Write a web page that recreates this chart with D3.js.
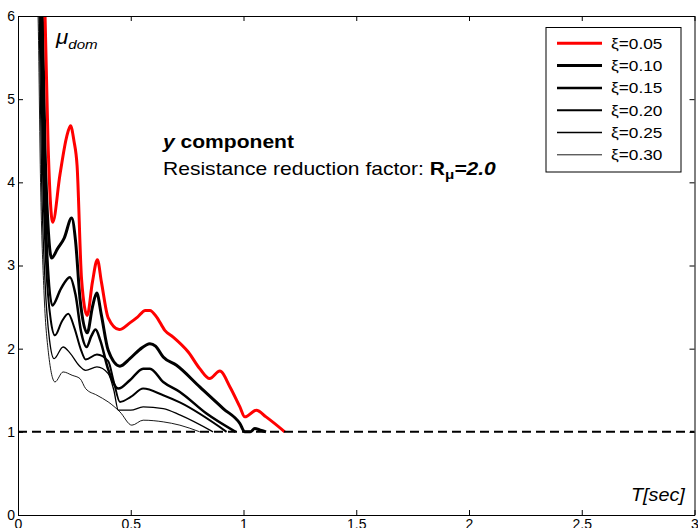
<!DOCTYPE html>
<html lang="en">
<head>
    <meta charset="UTF-8">
    <title>Ductility demand spectra</title>
    <script src="https://cdn.jsdelivr.net/npm/d3@7"></script>
    <style>
        body { margin: 0; background: #fff; }
        text { font-family: Arial, "Liberation Sans", sans-serif; fill: #000; }
    </style>
</head>
<body>
<script>
    // period T [sec] and ductility demand for each damping ratio
    var xi05 = [[0.11, 6.8], [0.12, 6.0], [0.133, 4.5], [0.154, 3.52], [0.186, 4.09], [0.216, 4.55], [0.233, 4.68],
        [0.248, 4.5], [0.262, 4.2], [0.282, 2.83], [0.307, 2.40], [0.33, 2.8], [0.352, 3.07], [0.37, 2.8],
        [0.40, 2.37], [0.449, 2.23], [0.496, 2.31], [0.53, 2.38], [0.565, 2.46], [0.585, 2.46], [0.615, 2.38],
        [0.651, 2.22], [0.688, 2.14], [0.755, 1.96], [0.806, 1.76], [0.85, 1.64], [0.895, 1.73], [0.94, 1.54],
        [0.984, 1.30], [1.006, 1.18], [1.057, 1.26], [1.10, 1.18], [1.183, 1.0]];
    var xi10 = [[0.095, 6.8], [0.108, 6.0], [0.12, 4.4], [0.135, 3.4], [0.149, 3.09], [0.175, 3.2], [0.205, 3.33],
        [0.238, 3.57], [0.255, 3.3], [0.275, 2.6], [0.307, 2.19], [0.33, 2.5], [0.349, 2.67], [0.37, 2.4],
        [0.40, 1.98], [0.452, 1.79], [0.496, 1.88], [0.54, 1.99], [0.585, 2.06], [0.61, 2.03], [0.644, 1.90],
        [0.703, 1.80], [0.806, 1.54], [0.91, 1.28], [0.984, 1.10], [1.006, 1.0], [1.03, 1.0], [1.05, 1.04],
        [1.075, 1.02], [1.10, 1.0]];
    var xi15 = [[0.09, 6.8], [0.103, 6.0], [0.115, 4.3], [0.13, 3.1], [0.152, 2.52], [0.19, 2.72], [0.23, 2.86],
        [0.255, 2.65], [0.28, 2.2], [0.304, 2.02], [0.325, 2.15], [0.344, 2.23], [0.365, 2.1], [0.40, 1.75],
        [0.445, 1.52], [0.496, 1.62], [0.555, 1.76], [0.585, 1.76], [0.644, 1.60], [0.718, 1.48], [0.836, 1.22],
        [0.965, 1.0]];
    var xi20 = [[0.085, 6.8], [0.099, 6.0], [0.11, 4.2], [0.125, 3.0], [0.145, 2.35], [0.164, 2.16], [0.195, 2.33],
        [0.223, 2.42], [0.25, 2.25], [0.28, 1.98], [0.30, 1.87], [0.35, 1.93], [0.40, 1.85], [0.425, 1.6],
        [0.452, 1.36], [0.50, 1.42], [0.555, 1.52], [0.644, 1.44], [0.72, 1.35], [0.925, 1.0]];
    var xi25 = [[0.08, 6.8], [0.094, 6.0], [0.105, 4.0], [0.12, 2.8], [0.14, 2.1], [0.16, 1.88], [0.20, 2.02],
        [0.23, 1.95], [0.27, 1.8], [0.30, 1.74], [0.35, 1.78], [0.40, 1.7], [0.425, 1.5], [0.445, 1.26],
        [0.50, 1.26], [0.555, 1.30], [0.644, 1.28], [0.72, 1.2], [0.865, 1.0]];
    var xi30 = [[0.075, 6.8], [0.089, 6.0], [0.10, 4.0], [0.115, 2.7], [0.135, 1.95], [0.164, 1.60], [0.20, 1.72],
        [0.24, 1.68], [0.275, 1.64], [0.30, 1.52], [0.35, 1.44], [0.40, 1.36], [0.452, 1.24], [0.505, 1.08],
        [0.555, 1.14], [0.644, 1.12], [0.718, 1.08], [0.806, 1.0]];

    var seriesNames = ["\u03BE=0.05", "\u03BE=0.10", "\u03BE=0.15", "\u03BE=0.20", "\u03BE=0.25", "\u03BE=0.30"];
    var seriesData = [xi05, xi10, xi15, xi20, xi25, xi30];
    var seriesColors = ["#ff0000", "#000", "#000", "#000", "#000", "#000"];
    var seriesWidths = [3, 3, 2.5, 2, 1.3, 0.9];

    var xTicks = [0, 0.5, 1, 1.5, 2, 2.5, 3];
    var yTicks = [0, 1, 2, 3, 4, 5, 6];
    var elasticLimit = 1;

    var width = 698, height = 528;
    var m = {left: 18, right: 694.5, top: 16, bottom: 515};

    var svg = d3.select("body")
        .append("svg")
        .attr("width", width)
        .attr("height", height);

    var x = d3.scaleLinear().domain([0, 3]).range([m.left, m.right]);
    var y = d3.scaleLinear().domain([0, 6]).range([m.bottom, m.top]);

    svg.append("clipPath").attr("id", "plotclip")
        .append("rect")
        .attr("x", m.left).attr("y", m.top)
        .attr("width", m.right - m.left).attr("height", m.bottom - m.top);

    var line = d3.line()
        .x(d => x(d[0]))
        .y(d => y(d[1]))
        .curve(d3.curveMonotoneX);

    // curves, thinnest first so the red one sits on top
    var order = [5, 4, 3, 2, 1, 0];
    svg.append("g").attr("clip-path", "url(#plotclip)")
        .selectAll("path")
        .data(order)
        .enter().append("path")
        .attr("d", i => line(seriesData[i]))
        .attr("fill", "none")
        .attr("stroke", i => seriesColors[i])
        .attr("stroke-width", i => seriesWidths[i])
        .attr("stroke-linejoin", "round");

    // dashed mu = 1 line
    svg.append("line")
        .attr("x1", x(0)).attr("x2", x(3))
        .attr("y1", y(elasticLimit)).attr("y2", y(elasticLimit))
        .attr("stroke", "#000")
        .attr("stroke-width", 2)
        .attr("stroke-dasharray", "9,5");

    // axes: box with inward ticks on all sides
    var axB = svg.append("g").attr("transform", "translate(0," + m.bottom + ")")
        .call(d3.axisBottom(x).tickValues(xTicks).tickSizeInner(-5).tickSizeOuter(0).tickFormat(d3.format("")));
    var axT = svg.append("g").attr("transform", "translate(0," + m.top + ")")
        .call(d3.axisTop(x).tickValues(xTicks).tickSizeInner(-5).tickSizeOuter(0).tickFormat(""));
    var axL = svg.append("g").attr("transform", "translate(" + m.left + ",0)")
        .call(d3.axisLeft(y).tickValues(yTicks).tickSizeInner(-5).tickSizeOuter(0).tickFormat(d3.format("d")));
    var axR = svg.append("g").attr("transform", "translate(" + m.right + ",0)")
        .call(d3.axisRight(y).tickValues(yTicks).tickSizeInner(-5).tickSizeOuter(0).tickFormat(""));

    [axB, axT, axL, axR].forEach(function (a) {
        a.selectAll("path").attr("stroke", "#000").attr("stroke-width", 1);
        a.selectAll("line").attr("stroke", "#000");
        a.selectAll("text").attr("font-size", 14).attr("font-family", "Arial, 'Liberation Sans', sans-serif").attr("fill", "#000");
    });
    axB.selectAll("text").attr("dy", null).attr("y", 14);
    axL.selectAll("text").attr("x", -3);

    // axis titles
    var mu = svg.append("text").attr("transform", "translate(56,44) scale(1.12,1)")
        .attr("font-size", 20).attr("font-style", "italic");
    mu.append("tspan").text("\u03BC");
    mu.append("tspan").attr("dy", 5).attr("font-size", 13.5).text("dom");

    svg.append("text").attr("transform", "translate(631,501) scale(1.1,1)")
        .attr("font-size", 18).attr("font-style", "italic")
        .text("T[sec]");

    // annotation
    var t1 = svg.append("text").attr("transform", "translate(163,148) scale(1.17,1)")
        .attr("font-size", 18).attr("font-weight", "bold");
    t1.append("tspan").attr("font-style", "italic").text("y");
    t1.append("tspan").text(" component");

    var t2 = svg.append("text").attr("transform", "translate(163,175) scale(1.17,1)")
        .attr("font-size", 18);
    t2.append("tspan").text("Resistance reduction factor: ");
    t2.append("tspan").attr("font-weight", "bold").text("R");
    t2.append("tspan").attr("font-weight", "bold").attr("font-size", 13).attr("dy", 4).text("\u03BC");
    t2.append("tspan").attr("font-weight", "bold").attr("font-style", "italic").attr("dy", -4).text("=2.0");

    // legend
    var legend = svg.append("g");
    legend.append("rect")
        .attr("x", 546).attr("y", 27.5)
        .attr("width", 135).attr("height", 144.5)
        .attr("fill", "#fff").attr("stroke", "#000").attr("stroke-width", 1);

    var rows = legend.selectAll("g.row")
        .data(seriesNames)
        .enter().append("g")
        .attr("class", "row")
        .attr("transform", (d, i) => "translate(0," + (43.3 + i * 22.3) + ")");

    rows.append("line")
        .attr("x1", 557).attr("x2", 602)
        .attr("stroke", (d, i) => seriesColors[i])
        .attr("stroke-width", (d, i) => seriesWidths[i]);

    rows.append("text")
        .attr("transform", "translate(611,5.4) scale(1.15,1)")
        .attr("font-size", 15)
        .text(d => d);
</script>
</body>
</html>
